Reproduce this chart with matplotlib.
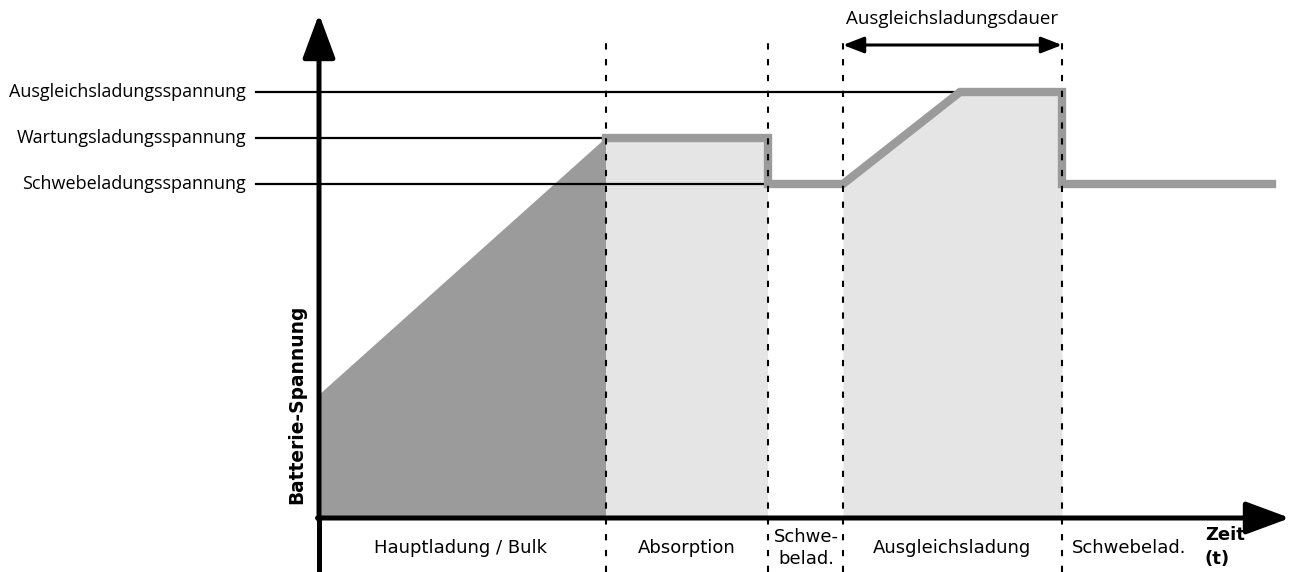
import matplotlib.pyplot as plt

# voltage levels (arbitrary units, 0 = x axis)
level_names = ['Ausgleichsladungsspannung', 'Wartungsladungsspannung', 'Schwebeladungsspannung']
level_values = [42.6, 38.0, 33.4]
level_ends = [64.1, 28.7, 44.9]
bulk_start = 12.3

# phase boundaries (time, arbitrary units)
boundaries = [28.7, 44.9, 52.4, 74.3]
phase_labels = ['Hauptladung / Bulk', 'Absorption', 'Schwe-\nbelad.', 'Ausgleichsladung', 'Schwebelad.']
phase_centers = [14.2, 36.8, 48.7, 63.3, 81.0]

# charging voltage curve
curve_t = [28.7, 44.9, 44.9, 52.4, 64.1, 74.3, 74.3, 95.3]
curve_v = [38.0, 38.0, 33.4, 33.4, 42.6, 42.6, 33.4, 33.4]

fig = plt.figure(figsize=(12.92, 5.72), dpi=100)
ax = fig.add_axes([0, 0, 1, 1])
ax.set_xlim(-31.9, 97.3)
ax.set_ylim(-5.4, 51.8)
ax.axis('off')

# fills
ax.fill([0, boundaries[0], boundaries[0], 0], [bulk_start, level_values[1], 0, 0],
        color='#9b9b9b', lw=0, zorder=1)
ax.fill_between(curve_t[0:2], curve_v[0:2], 0, color='#e5e5e5', lw=0, zorder=1)
ax.fill_between(curve_t[3:6], curve_v[3:6], 0, color='#e5e5e5', lw=0, zorder=1)

# reference lines + labels
for name, v, end in zip(level_names, level_values, level_ends):
    ax.plot([-6.3, end], [v, v], color='black', lw=1.6, zorder=2)
    ax.text(-7.3, v, name, ha='right', va='center', fontsize=13, family='Open Sans')

# curve
ax.plot(curve_t, curve_v, color='#9b9b9b', lw=6, solid_joinstyle='miter', zorder=3)

# dashed boundaries
for b in boundaries:
    ax.plot([b, b], [-5.4, 47.8], color='black', lw=1.5, ls=(0, (3.0, 4.6)), zorder=4)

# axes arrows
arrow = dict(arrowstyle='-|>,head_length=1.35,head_width=0.5',
             mutation_scale=20, color='black', lw=3.6, shrinkA=0, shrinkB=0)
ax.plot([0, 0], [-5.4, 0], color='black', lw=3.6, zorder=5)
ax.annotate('', xy=(0, 50.4), xytext=(0, -0.2), arrowprops=arrow,
            annotation_clip=False, zorder=5)
ax.annotate('', xy=(97.1, 0), xytext=(-0.15, 0), arrowprops=arrow,
            annotation_clip=False, zorder=5)

# duration arrow
ax.annotate('', xy=(boundaries[3], 47.3), xytext=(boundaries[2], 47.3),
            arrowprops=dict(arrowstyle='<|-|>,head_length=0.9,head_width=0.35',
                            mutation_scale=14, color='black', lw=2.2, shrinkA=0, shrinkB=0))
ax.text((boundaries[2] + boundaries[3]) / 2, 49.9, 'Ausgleichsladungsdauer',
        ha='center', va='center', fontsize=13.5, family='Open Sans')

# phase labels
for lab, c in zip(phase_labels, phase_centers):
    ax.text(c, -3.0, lab, ha='center', va='center', fontsize=13, linespacing=1.3)
ax.text(88.6, -2.9, 'Zeit\n(t)', ha='left', va='center', fontsize=13,
        fontweight='bold', linespacing=1.45)

ax.text(-2.2, 11.4, 'Batterie-Spannung', rotation=90, ha='center', va='center',
        fontsize=13.4, fontweight='bold')

fig.savefig('out.png', dpi=100)
